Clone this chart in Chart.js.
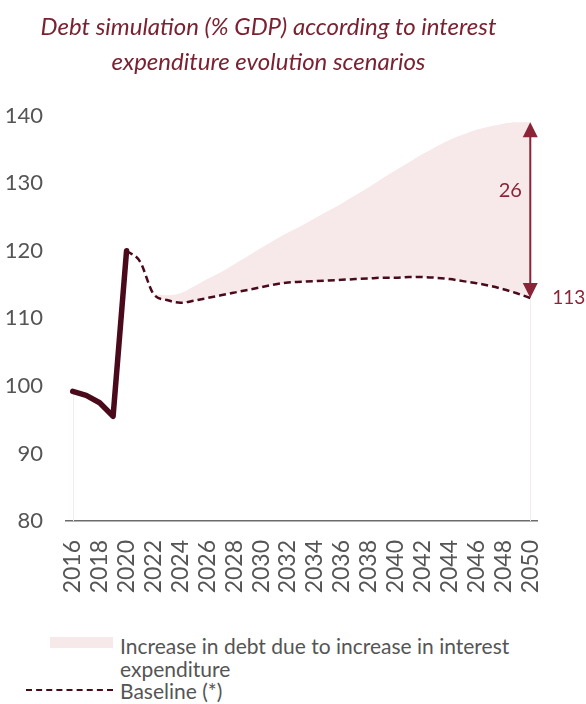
<!DOCTYPE html>
<html>
<head>
<meta charset="utf-8">
<script src="https://cdn.jsdelivr.net/npm/chart.js@4.4.1/dist/chart.umd.min.js"></script>
<style>
  html, body { margin: 0; padding: 0; background: #ffffff; }
  #wrap { position: relative; width: 586px; height: 704px; overflow: hidden; }
  #chart { position: absolute; left: 0; top: 0; }
  .legend { position: absolute; font-family: Lato, "DejaVu Sans", sans-serif; font-size: 21px; color: #555555; line-height: 23px; }
  .swatch { position: absolute; }
</style>
</head>
<body>
<div id="wrap">
  <canvas id="chart" width="586" height="620"></canvas>
  <div class="swatch" style="left:50px; top:637px; width:63px; height:11px; background:#f7e8ea;"></div>
  <div class="legend" style="left:120px; top:634px; width:466px;">Increase in debt due to increase in interest<br>expenditure</div>
  <div class="swatch" style="left:26px; top:689px; width:87px; height:0; border-top:2px dashed #4a0a1c;"></div>
  <div class="legend" style="left:120px; top:679px;">Baseline (*)</div>
</div>
<script>
// Years on the horizontal axis
const years = [];
for (let y = 2016; y <= 2050; y++) years.push(String(y));

// Observed debt ratio, % of GDP (2016-2020)
const historical = [99.2, 98.6, 97.5, 95.5, 120.0];

// Baseline projection, % of GDP (2020-2050)
const baseline = [
  120.0, 118.4, 113.6, 112.7, 112.3, 112.6, 113.0, 113.4, 113.8, 114.2,
  114.6, 115.0, 115.3, 115.4, 115.5, 115.6, 115.7, 115.8, 115.9, 116.0,
  116.0, 116.1, 116.1, 116.0, 115.8, 115.5, 115.2, 114.8, 114.3, 113.7,
  113.0
];

// Debt path with higher interest expenditure, % of GDP (2022-2050)
const higherInterest = [
  113.6, 113.4, 113.7, 114.7, 115.8, 116.8, 118.0, 119.2, 120.4, 121.6,
  122.7, 123.7, 124.8, 125.9, 127.0, 128.2, 129.4, 130.7, 131.9, 133.1,
  134.3, 135.4, 136.4, 137.2, 137.9, 138.4, 138.8, 139.0, 139.0
];

const yTicks = [80, 90, 100, 110, 120, 130, 140];

// Pad each series to the full year range
function onYears(startYear, values) {
  return years.map(y => {
    const i = Number(y) - startYear;
    return i >= 0 && i < values.length ? values[i] : null;
  });
}

const MAROON = '#4a0a1c';
const RED = '#8b2436';
const PINK = '#f7e8ea';
const font = 'Lato, "DejaVu Sans", sans-serif';

// Gap arrow at the last year plus end-value labels
const gapAnnotation = {
  id: 'gapAnnotation',
  afterDatasetsDraw(chart) {
    const { ctx, scales: { x, y } } = chart;
    const lastIdx = years.length - 1;
    const low = baseline[baseline.length - 1];
    const high = higherInterest[higherInterest.length - 1];
    const px = x.getPixelForValue(lastIdx);
    const yLow = y.getPixelForValue(low);
    const yHigh = y.getPixelForValue(high);
    const head = 15, half = 7.5;

    ctx.save();
    ctx.strokeStyle = RED;
    ctx.fillStyle = RED;
    ctx.lineWidth = 2;
    ctx.beginPath();
    ctx.moveTo(px, yHigh + head - 1);
    ctx.lineTo(px, yLow - head + 1);
    ctx.stroke();
    ctx.beginPath();
    ctx.moveTo(px, yHigh);
    ctx.lineTo(px - half, yHigh + head);
    ctx.lineTo(px + half, yHigh + head);
    ctx.closePath();
    ctx.fill();
    ctx.beginPath();
    ctx.moveTo(px, yLow);
    ctx.lineTo(px - half, yLow - head);
    ctx.lineTo(px + half, yLow - head);
    ctx.closePath();
    ctx.fill();

    ctx.font = '20px ' + font;
    ctx.textBaseline = 'middle';
    ctx.textAlign = 'center';
    ctx.fillText(String(Math.round(high - low)), px - 20, y.getPixelForValue(low + (high - low) * 0.61));
    ctx.font = '19px ' + font;
    ctx.textAlign = 'left';
    ctx.fillText(String(Math.round(low)), px + 22, yLow);
    ctx.restore();
  }
};

// Faint vertical edges under the first and last points
const edgeLines = {
  id: 'edgeLines',
  beforeDatasetsDraw(chart) {
    const { ctx, scales: { x, y } } = chart;
    const bottom = y.getPixelForValue(80);
    const edges = [
      [0, historical[0]],
      [years.length - 1, baseline[baseline.length - 1]]
    ];
    ctx.save();
    ctx.strokeStyle = '#f6eaec';
    ctx.lineWidth = 1;
    edges.forEach(([i, v]) => {
      const px = Math.round(x.getPixelForValue(i)) + 0.5;
      ctx.beginPath();
      ctx.moveTo(px, y.getPixelForValue(v));
      ctx.lineTo(px, bottom);
      ctx.stroke();
    });
    ctx.restore();
  }
};

new Chart(document.getElementById('chart'), {
  type: 'line',
  data: {
    labels: years,
    datasets: [
      {
        label: 'Historical',
        data: onYears(2016, historical),
        borderColor: MAROON,
        borderWidth: 5.5,
        borderCapStyle: 'round',
        borderJoinStyle: 'round',
        tension: 0,
        pointRadius: 0,
        fill: false,
        order: 0
      },
      {
        label: 'Baseline (*)',
        data: onYears(2020, baseline),
        borderColor: MAROON,
        borderWidth: 2.5,
        borderDash: [7, 4],
        cubicInterpolationMode: 'monotone',
        pointRadius: 0,
        fill: false,
        order: 1
      },
      {
        label: 'Increase in debt due to increase in interest expenditure',
        data: onYears(2022, higherInterest),
        borderWidth: 0,
        borderColor: 'rgba(0,0,0,0)',
        backgroundColor: PINK,
        cubicInterpolationMode: 'monotone',
        pointRadius: 0,
        fill: 1,
        order: 2
      }
    ]
  },
  plugins: [edgeLines, gapAnnotation],
  options: {
    responsive: false,
    animation: false,
    events: [],
    layout: { padding: { left: 0, right: 49, top: 0, bottom: 0 } },
    plugins: {
      legend: { display: false },
      tooltip: { enabled: false },
      title: {
        display: true,
        text: ['Debt simulation (% GDP) according to interest', 'expenditure evolution scenarios'],
        color: '#7a2232',
        font: { family: font, size: 24, style: 'italic', weight: 'normal', lineHeight: 1.45 },
        padding: { top: 10, bottom: 36 }
      }
    },
    scales: {
      x: {
        type: 'category',
        offset: true,
        grid: { display: false, drawTicks: false },
        border: { display: true, color: '#6b6b6b', width: 1.5 },
        ticks: {
          autoSkip: false,
          minRotation: 90,
          maxRotation: 90,
          padding: 19,
          color: '#555555',
          font: { family: font, size: 23 },
          callback: function (value) {
            const yr = Number(this.getLabelForValue(value));
            return yr % 2 === 0 ? String(yr) : null;
          }
        },
        afterFit(scale) { scale.height = 99; }
      },
      y: {
        min: 80,
        max: 140,
        grid: { display: false, drawTicks: false },
        border: { display: false },
        afterBuildTicks(scale) { scale.ticks = yTicks.map(v => ({ value: v })); },
        ticks: {
          padding: 23,
          color: '#555555',
          font: { family: font, size: 22 }
        },
        afterFit(scale) { scale.width = 66; }
      }
    }
  }
});
</script>
</body>
</html>
